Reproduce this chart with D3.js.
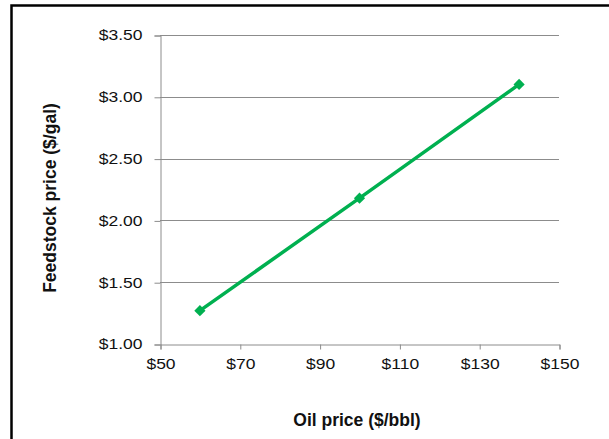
<!DOCTYPE html>
<html><head><meta charset="utf-8">
<script src="https://cdn.jsdelivr.net/npm/d3@7"></script>
<style>body{margin:0;background:#fff}svg{display:block}</style>
</head><body>
<svg id="c" width="609" height="439"></svg>
<script>
const oilPrice = [60, 100, 140];
const feedstockPrice = [1.27, 2.18, 3.10];
const xTicks = [50, 70, 90, 110, 130, 150];
const yTicks = [1.0, 1.5, 2.0, 2.5, 3.0, 3.5];

const svg = d3.select("#c");
svg.append("rect").attr("x", 11.5).attr("y", 5.5).attr("width", 640).attr("height", 460)
  .attr("fill", "none").attr("stroke", "#000").attr("stroke-width", 2.5);

const x = d3.scaleLinear().domain([50, 150]).range([160, 559]);
const y = d3.scaleLinear().domain([1, 3.5]).range([344, 35]);
const font = "'Liberation Sans', Arial, sans-serif";
const sx = 1.25;

// gridlines
svg.append("g").selectAll("line").data(yTicks.slice(1)).join("line")
  .attr("x1", 160).attr("x2", 559)
  .attr("y1", d => Math.round(y(d)) + 0.5).attr("y2", d => Math.round(y(d)) + 0.5)
  .attr("stroke", "#8c8c8c").attr("stroke-width", 1);

const yAxis = svg.append("g").attr("transform", "translate(160.5,0.5)")
  .call(d3.axisLeft(y).tickValues(yTicks).tickSize(6).tickFormat(d => "$" + d.toFixed(2)));
const xAxis = svg.append("g").attr("transform", "translate(0.5,344.5)")
  .call(d3.axisBottom(x).tickValues(xTicks).tickSize(5).tickFormat(d => "$" + d));
[yAxis, xAxis].forEach(a => {
  a.select(".domain").attr("stroke", "#8c8c8c");
  a.selectAll(".tick line").attr("stroke", "#8c8c8c");
  a.selectAll("text").attr("font-family", font).attr("font-size", 14).attr("fill", "#111")
    .attr("transform", `scale(${sx},1)`);
});
yAxis.selectAll("text").attr("x", -18 / sx).attr("dy", "0.32em");
xAxis.selectAll("text").attr("y", 25).attr("dy", 0);

const pts = oilPrice.map((v, i) => [v, feedstockPrice[i]]);
svg.append("path").datum(pts)
  .attr("d", d3.line().x(d => x(d[0])).y(d => y(d[1])))
  .attr("fill", "none").attr("stroke", "#00b050").attr("stroke-width", 3.5);
svg.append("g").selectAll("path").data(pts).join("path")
  .attr("transform", d => `translate(${x(d[0])},${y(d[1])})`)
  .attr("d", d3.symbol(d3.symbolDiamond2, 80))
  .attr("fill", "#00b050");

svg.append("text").attr("x", 357).attr("y", 426).attr("text-anchor", "middle")
  .attr("font-family", font).attr("font-size", 17.5).attr("font-weight", "bold").attr("fill", "#111")
  .text("Oil price ($/bbl)");
svg.append("text").attr("transform", "translate(56,198) rotate(-90)").attr("text-anchor", "middle")
  .attr("font-family", font).attr("font-size", 17.5).attr("font-weight", "bold").attr("fill", "#111")
  .text("Feedstock price ($/gal)");
</script>
</body></html>
